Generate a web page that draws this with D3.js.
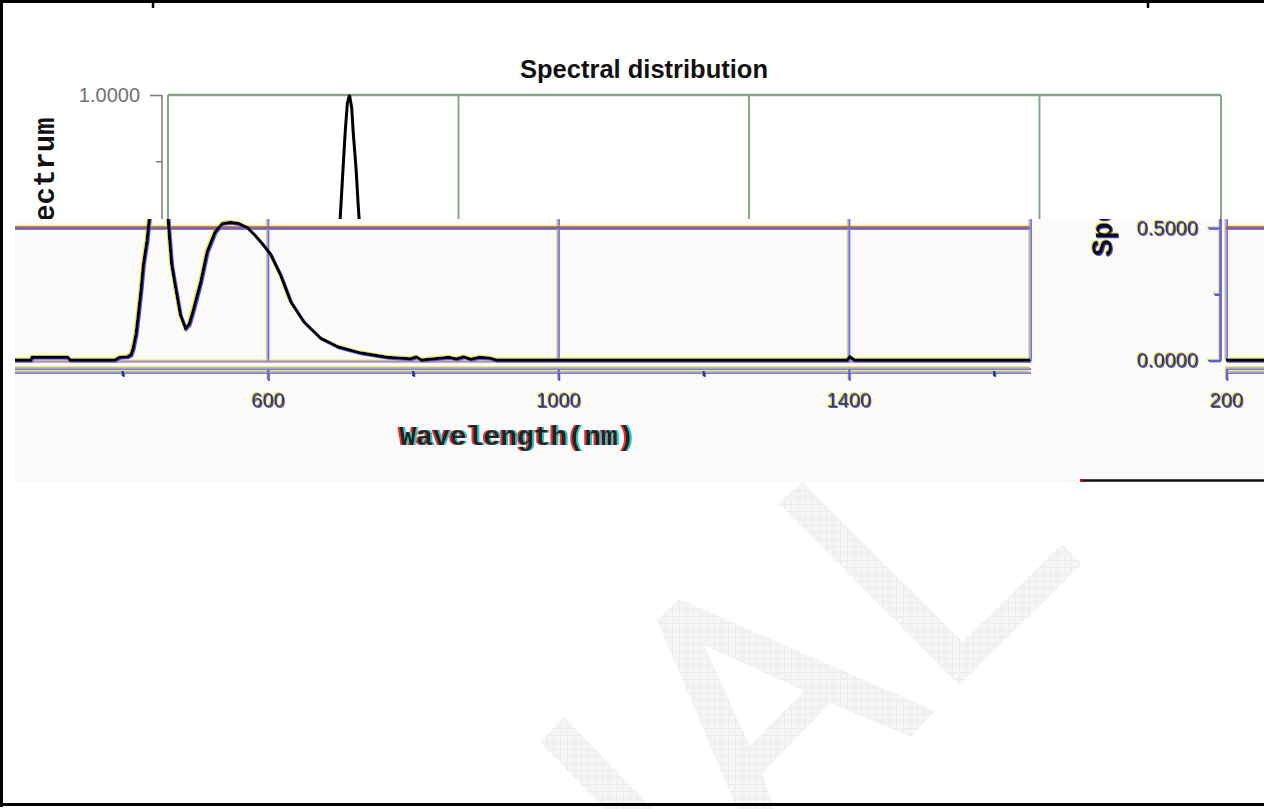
<!DOCTYPE html>
<html>
<head>
<meta charset="utf-8">
<script src="https://cdn.jsdelivr.net/npm/d3@7"></script>
<style>
  html, body { margin: 0; padding: 0; background: #fff; overflow: hidden; }
</style>
</head>
<body>
<svg id="chart" width="1264" height="809"></svg>
<script>
// spectrum (nm, relative intensity)
const wavelength = [200, 250, 274, 276, 325, 328, 390, 396, 407, 412, 415, 419, 422, 426, 429, 434, 437, 441, 444, 447, 450,
  453, 455, 459, 462, 465, 468, 472, 480, 487, 492, 497, 508, 517, 528, 538, 549, 560, 572, 583, 594, 604, 618, 632, 650,
  673, 697, 728, 765, 797, 805, 812, 850, 860, 870, 880, 892, 905, 915, 1398, 1402, 1408, 1650];
const intensity = [0, 0, 0, 0.01, 0.01, 0, 0, 0.01, 0.012, 0.02, 0.045, 0.1, 0.17, 0.27, 0.36, 0.45, 0.53, 0.72, 0.86, 0.97, 1.0,
  0.95, 0.86, 0.72, 0.58, 0.46, 0.36, 0.295, 0.17, 0.12, 0.135, 0.18, 0.295, 0.41, 0.485, 0.515, 0.52, 0.515, 0.5, 0.47, 0.435, 0.4, 0.32, 0.22, 0.144,
  0.083, 0.05, 0.027, 0.01, 0.005, 0.012, 0, 0.01, 0.004, 0.012, 0.003, 0.01, 0.008, 0, 0, 0.012, 0, 0];

const xMajorTicks = [200, 600, 1000, 1400];
const xMinorTicks = [400, 800, 1200, 1600];
const xGrid = [200, 600, 1000, 1400, 1650];
const yMajorTicks = [0, 0.5, 1];
const yMinorTicks = [0.25, 0.75];
const yGrid = [0.5, 1];

const titleText = 'Spectral distribution';
const xTitle = 'Wavelength(nm)';
const yTitle = 'Spectrum';

const sans = 'Liberation Sans, Arial, sans-serif';
const mono = 'Liberation Mono, Courier New, monospace';

const svg = d3.select('#chart');

// chart in its own (unshifted) coordinates
const x = d3.scaleLinear().domain([200, 1650]).range([168, 1221]);
const y = d3.scaleLinear().domain([0, 1]).range([360, 95]);

const defs = svg.append('defs');

// colour fringes of the scan
function fringeFilter(id, colA, dxA, dyA, colB, dxB, dyB, op) {
  const f = defs.append('filter').attr('id', id)
    .attr('x', '-5%').attr('y', '-5%').attr('width', '110%').attr('height', '110%');
  f.append('feOffset').attr('in', 'SourceAlpha').attr('dx', dxA).attr('dy', dyA).attr('result', 'oa');
  f.append('feFlood').attr('flood-color', colA).attr('flood-opacity', op);
  f.append('feComposite').attr('in2', 'oa').attr('operator', 'in').attr('result', 'ca');
  f.append('feOffset').attr('in', 'SourceAlpha').attr('dx', dxB).attr('dy', dyB).attr('result', 'ob');
  f.append('feFlood').attr('flood-color', colB).attr('flood-opacity', op);
  f.append('feComposite').attr('in2', 'ob').attr('operator', 'in').attr('result', 'cb');
  const m = f.append('feMerge');
  m.append('feMergeNode').attr('in', 'ca');
  m.append('feMergeNode').attr('in', 'cb');
  m.append('feMergeNode').attr('in', 'SourceGraphic');
}
fringeFilter('yb', '#e8e030', -1.3, -0.9, '#3030e0', 1.3, 0.9, 0.85);
fringeFilter('rc', '#e02020', -1.6, 0, '#10c0c0', 1.6, 0, 0.9);

// watermark texture
const pat = defs.append('pattern').attr('id', 'wm').attr('width', 7).attr('height', 7)
  .attr('patternUnits', 'userSpaceOnUse');
pat.append('rect').attr('width', 7).attr('height', 7).attr('fill', '#f5f5f5');
pat.append('path').attr('d', 'M0 0.5H7M0.5 0V7').attr('stroke', '#ececec').attr('stroke-width', 1);

function clip(id, x0, y0, w, h) {
  defs.append('clipPath').attr('id', id)
    .append('rect').attr('x', x0).attr('y', y0).attr('width', w).attr('height', h);
  return 'url(#' + id + ')';
}

// page background + faint watermark
svg.append('rect').attr('width', 1264).attr('height', 809).attr('fill', '#fff');
const wm = svg.append('g').attr('fill', 'url(#wm)');
wm.append('path').attr('d', 'M802,482 L963,642 L1062,544 L1082,564 L959,685 L778,503 Z');
wm.append('path').attr('fill-rule', 'evenodd')
  .attr('d', 'M679,599 L935,711 L911,737 L830,703 L762,774 L774,809 L737,809 L657,620 Z M704,645 L804,691 L750,746 Z');
wm.append('path').attr('d', 'M564,717 L540,742 L605,809 L653,809 Z');

// lower band background
svg.append('rect').attr('x', 15).attr('y', 219).attr('width', 1249).attr('height', 263).attr('fill', '#fafafa');

function drawChart(root, s) {
  const seen = (px, py) => px >= s.x0 && px <= s.x1 && py >= s.y0 && py <= s.y1;
  const g = root.append('g').attr('filter', s.filter);

  // vertical grid / frame
  g.selectAll('.vgrid').data(xGrid).join('line').attr('class', 'vgrid')
    .attr('x1', d => x(d)).attr('x2', d => x(d)).attr('y1', y(1)).attr('y2', y(0))
    .attr('stroke', s.v).attr('stroke-width', s.vw);
  // horizontal grid / frame
  g.selectAll('.hgrid').data(yGrid).join('line').attr('class', 'hgrid')
    .attr('x1', x(200)).attr('x2', x(1650)).attr('y1', d => y(d)).attr('y2', d => y(d))
    .attr('stroke', s.h).attr('stroke-width', 2.5);
  g.append('line').attr('x1', x(200)).attr('x2', x(1650)).attr('y1', y(0) + 1).attr('y2', y(0) + 1)
    .attr('stroke', s.h).attr('stroke-width', 1.5).attr('opacity', 0.6);

  // spectrum
  const pts = wavelength.map((w, i) => [w, intensity[i]]);
  const line = d3.line().x(d => x(d[0])).y(d => y(d[1]));
  g.append('path').datum(pts).attr('d', line).attr('fill', 'none').attr('stroke', '#000')
    .attr('stroke-width', 3);

  // x axis: double grey rule
  [368, 372].forEach(yy => {
    g.append('line').attr('x1', x(200)).attr('x2', x(1650)).attr('y1', yy).attr('y2', yy)
      .attr('stroke', '#a8a8a8').attr('stroke-width', 1.4);
  });
  const xAx = g.append('g').attr('transform', 'translate(0,369)')
    .call(d3.axisBottom(x).tickValues(xMajorTicks).tickSize(11).tickFormat(d3.format('d')));
  xAx.select('.domain').remove();
  xAx.selectAll('line').attr('stroke', s.tick).attr('stroke-width', 1.6);
  xAx.selectAll('text').attr('y', 38).attr('dy', null).attr('font-family', sans)
    .attr('font-size', '20px').attr('fill', s.label)
    .filter(d => !seen(x(d), 400)).remove();
  const xMin = g.append('g').attr('transform', 'translate(0,371)')
    .call(d3.axisBottom(x).tickValues(xMinorTicks).tickSize(5).tickFormat(''));
  xMin.select('.domain').remove();
  xMin.selectAll('line').attr('stroke', s.minor).attr('stroke-width', 2.2);

  // y axis
  const yAx = g.append('g').attr('transform', 'translate(162,0)')
    .call(d3.axisLeft(y).tickValues(yMajorTicks).tickSize(12).tickPadding(10).tickFormat(d3.format('.4f')));
  yAx.select('.domain').attr('stroke', s.axis).attr('stroke-width', 1.6).attr('d', 'M0,' + y(1) + 'V' + y(0));
  yAx.selectAll('line').attr('stroke', s.axis).attr('stroke-width', 1.6);
  yAx.selectAll('text').attr('dy', '0.34em').attr('font-family', sans)
    .attr('font-size', '20px').attr('fill', s.label)
    .filter(d => !seen(110, y(d))).remove();
  const yMin = g.append('g').attr('transform', 'translate(162,0)')
    .call(d3.axisLeft(y).tickValues(yMinorTicks).tickSize(6).tickFormat(''));
  yMin.select('.domain').remove();
  yMin.selectAll('line').attr('stroke', s.axis).attr('stroke-width', 1.6);

  // titles
  if (seen(644, 70)) {
    g.append('text').attr('x', 644).attr('y', 78).attr('text-anchor', 'middle')
      .attr('font-family', sans).attr('font-weight', 'bold').attr('font-size', '25.5px')
      .attr('fill', '#111').text(titleText);
  }
  if (s.x0 < 60) {
    g.append('text').attr('transform', 'translate(54,187) rotate(-90)').attr('text-anchor', 'middle')
      .attr('font-family', mono).attr('font-weight', 'bold').attr('font-size', '29px')
      .attr('fill', '#111').text(yTitle);
  }
  if (seen(708, 437)) {
    root.append('text').attr('filter', s.titleFilter).attr('x', 708).attr('y', 445).attr('text-anchor', 'middle')
      .attr('font-family', mono).attr('font-weight', 'bold').attr('font-size', '28px')
      .attr('fill', '#222').text(xTitle);
  }
}

const topStyle = { v: '#86a886', vw: 2, h: '#86a886', axis: '#808080', tick: '#808080', minor: '#808080',
  label: '#707070', filter: null, titleFilter: null, x0: 0, x1: 1264, y0: 0, y1: 219 };
const lowBase = { v: '#9a9af0', vw: 1.6, h: '#9c6262', axis: '#6060d0', tick: '#6060d0', minor: '#2030a0',
  label: '#3a3a3a', filter: 'url(#yb)', titleFilter: 'url(#rc)', y0: 219, y1: 482 };

// upper band: as drawn
drawChart(svg.append('g').attr('clip-path', clip('cTop', 0, 0, 1264, 219)).append('g'), topStyle);

// lower band: shifted left by 191 px and wrapped round
drawChart(svg.append('g').attr('clip-path', clip('cLowA', 15, 219, 1065, 263))
  .append('g').attr('transform', 'translate(-191,0)'), Object.assign({}, lowBase, { x0: 206, x1: 1271 }));
drawChart(svg.append('g').attr('clip-path', clip('cLowB', 1080, 219, 184, 263))
  .append('g').attr('transform', 'translate(1058,0)'), Object.assign({}, lowBase, { x0: 22, x1: 206 }));

// stray rule at the end of the lower band
svg.append('line').attr('x1', 1080).attr('x2', 1264).attr('y1', 480.5).attr('y2', 480.5)
  .attr('stroke', '#111').attr('stroke-width', 2.5);
svg.append('line').attr('x1', 1080).attr('x2', 1083).attr('y1', 480.5).attr('y2', 480.5)
  .attr('stroke', '#e00000').attr('stroke-width', 2.5);

// page frame
const frame = svg.append('g').attr('stroke', '#000');
frame.append('line').attr('x1', 0).attr('x2', 1264).attr('y1', 1.5).attr('y2', 1.5).attr('stroke-width', 3);
frame.append('line').attr('x1', 1.5).attr('x2', 1.5).attr('y1', 0).attr('y2', 807).attr('stroke-width', 3);
frame.append('line').attr('x1', 0).attr('x2', 1264).attr('y1', 804.5).attr('y2', 804.5).attr('stroke-width', 3);
frame.append('line').attr('x1', 153).attr('x2', 153).attr('y1', 0).attr('y2', 8).attr('stroke-width', 2.5);
frame.append('line').attr('x1', 1148).attr('x2', 1148).attr('y1', 0).attr('y2', 8).attr('stroke-width', 2.5);
</script>
</body>
</html>
